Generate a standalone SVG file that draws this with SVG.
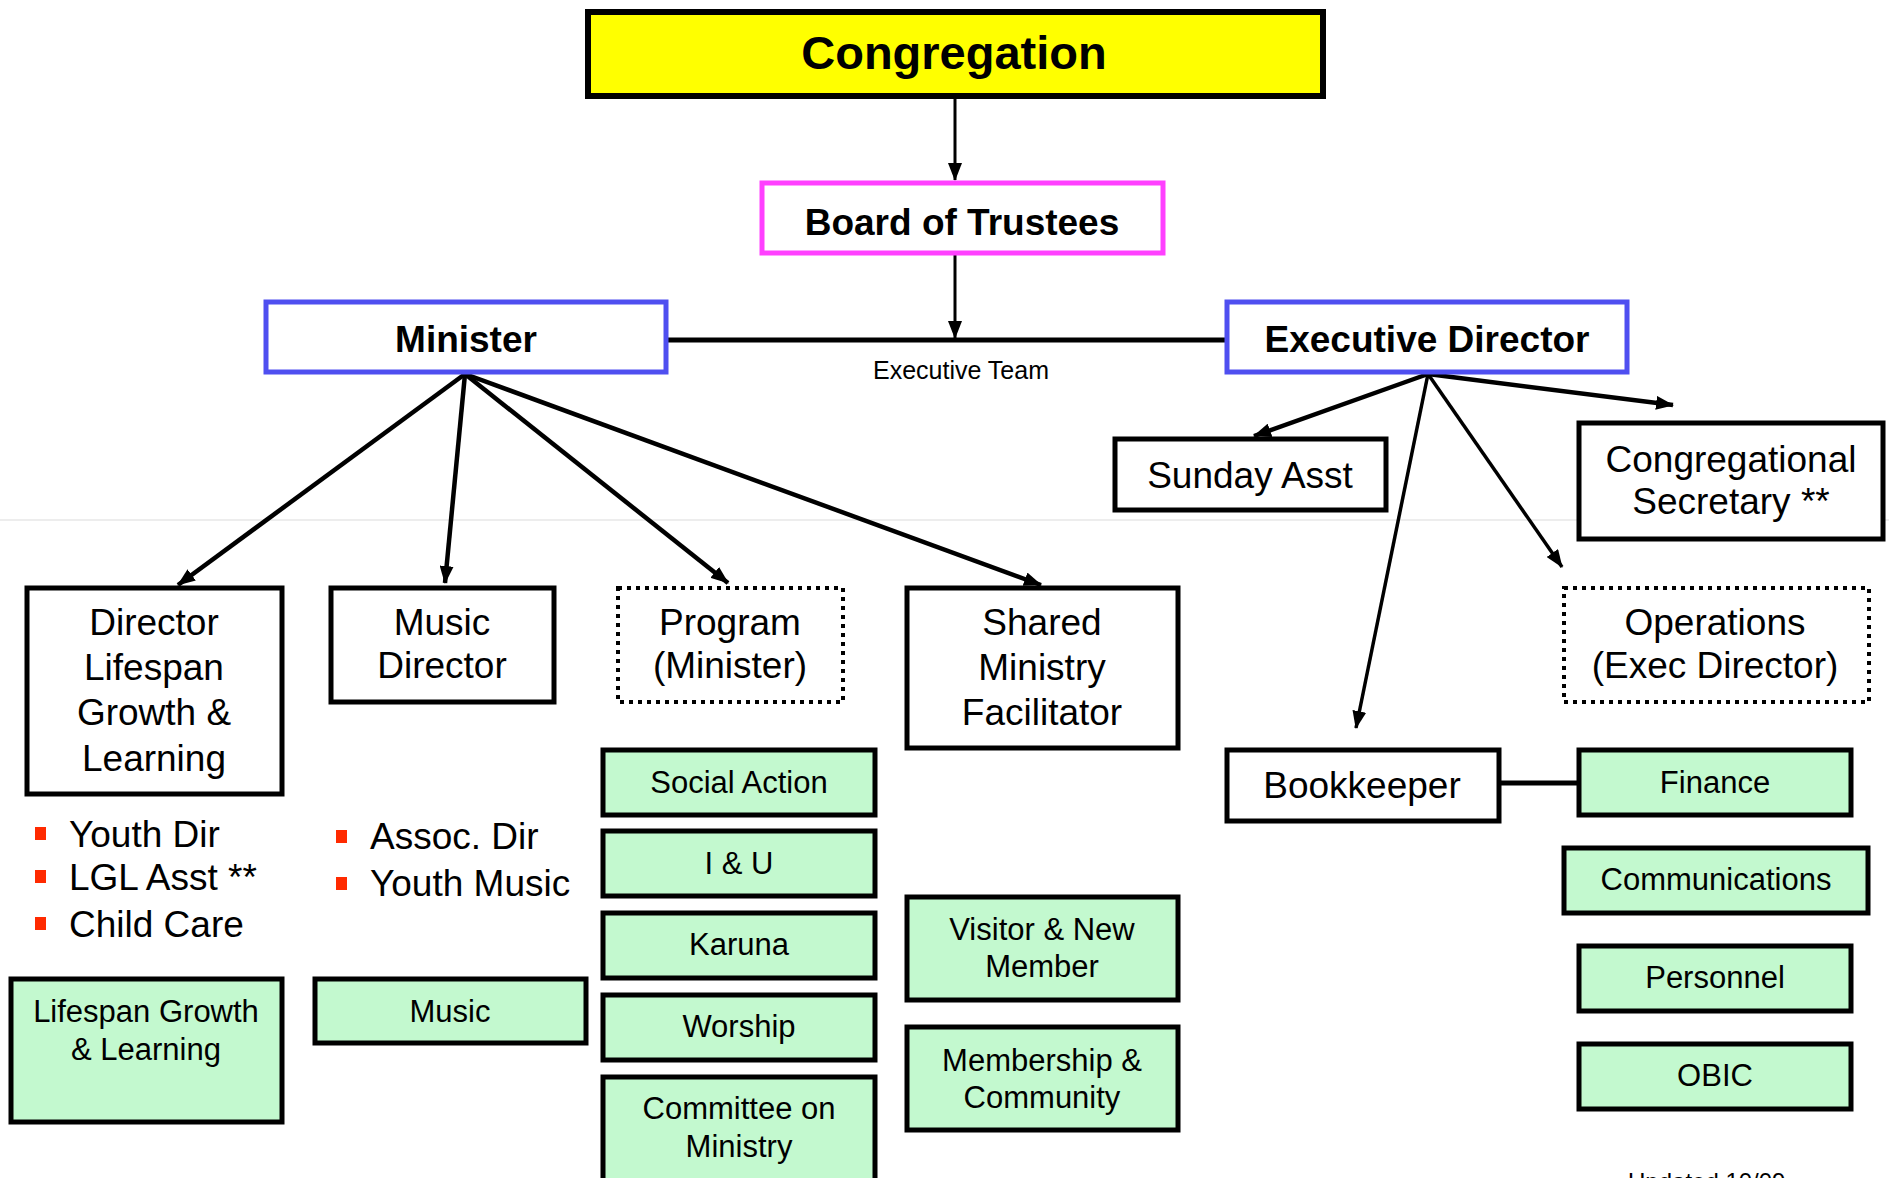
<svg xmlns="http://www.w3.org/2000/svg" width="1889" height="1178" viewBox="0 0 1889 1178">
<defs>
<style>
text{font-family:"Liberation Sans",Arial,sans-serif;fill:#000;text-anchor:middle}
.b{font-weight:bold}
.t37{font-size:37px}
.t31{font-size:31px}
.box{fill:#fff;stroke:#000;stroke-width:5}
.dot{fill:#fff;stroke:#000;stroke-width:4;stroke-dasharray:4 5}
.grn{fill:#c3f9cf;stroke:#000;stroke-width:5}
.blue{fill:#fff;stroke:#4f4ff0;stroke-width:5}
.conn line{stroke:#000;stroke-width:4.5;fill:none}
.bul{fill:#ff2a00}
.lt{text-anchor:start}
</style>
<marker id="ah" viewBox="0 0 18 14" refX="17" refY="7" markerWidth="18" markerHeight="14" markerUnits="userSpaceOnUse" orient="auto">
<path d="M0,0 L18,7 L0,14 Z" fill="#000"/>
</marker>
</defs>
<rect x="0" y="0" width="1889" height="1178" fill="#fff"/>
<line x1="0" y1="520" x2="1889" y2="520" stroke="#ededed" stroke-width="2"/>

<g class="conn">
<line x1="955" y1="97" x2="955" y2="180" style="stroke-width:3" marker-end="url(#ah)"/>
<line x1="955" y1="255" x2="955" y2="338" style="stroke-width:3" marker-end="url(#ah)"/>
<line x1="667" y1="340" x2="1226" y2="340" style="stroke-width:5"/>
<line x1="465" y1="374" x2="178" y2="585" marker-end="url(#ah)"/>
<line x1="465" y1="374" x2="445" y2="583" marker-end="url(#ah)"/>
<line x1="465" y1="374" x2="728" y2="583" marker-end="url(#ah)"/>
<line x1="465" y1="374" x2="1041" y2="585" marker-end="url(#ah)"/>
<line x1="1428" y1="374" x2="1254" y2="436" marker-end="url(#ah)"/>
<line x1="1428" y1="374" x2="1673" y2="405" marker-end="url(#ah)"/>
<line x1="1428" y1="374" x2="1356" y2="728" style="stroke-width:3.5" marker-end="url(#ah)"/>
<line x1="1428" y1="374" x2="1562" y2="567" style="stroke-width:3.5" marker-end="url(#ah)"/>
<line x1="1500" y1="783" x2="1578" y2="783" style="stroke-width:5"/>
</g>

<g id="congregation">
<rect x="588" y="12" width="735" height="84" fill="#ffff00" stroke="#000" stroke-width="6"/>
<text class="b" x="954" y="69" font-size="47">Congregation</text>
</g>
<g id="board">
<rect x="762" y="183" width="401" height="70" fill="#fff" stroke="#ff40ff" stroke-width="5"/>
<text class="b t37" x="962" y="235">Board of Trustees</text>
</g>
<g id="minister">
<rect class="blue" x="266" y="302" width="400" height="70"/>
<text class="b t37" x="466" y="352">Minister</text>
</g>
<g id="execdir">
<rect class="blue" x="1227" y="302" width="400" height="70"/>
<text class="b t37" x="1427" y="352">Executive Director</text>
</g>
<g id="execteam">
<text x="961" y="379" font-size="25">Executive Team</text>
</g>

<g id="sundayasst">
<rect class="box" x="1115" y="439" width="271" height="71"/>
<text class="t37" x="1250" y="488">Sunday Asst</text>
</g>
<g id="congsec">
<rect class="box" x="1579" y="423" width="304" height="116"/>
<text class="t37" x="1731" y="472">Congregational</text>
<text class="t37" x="1731" y="514">Secretary **</text>
</g>

<g id="dirlifespan">
<rect class="box" x="27" y="588" width="255" height="206"/>
<text class="t37" x="154" y="635">Director</text>
<text class="t37" x="154" y="680">Lifespan</text>
<text class="t37" x="154" y="725">Growth &amp;</text>
<text class="t37" x="154" y="771">Learning</text>
</g>
<g id="musicdir">
<rect class="box" x="331" y="588" width="223" height="114"/>
<text class="t37" x="442" y="635">Music</text>
<text class="t37" x="442" y="678">Director</text>
</g>
<g id="program">
<rect class="dot" x="618" y="588" width="225" height="114"/>
<text class="t37" x="730" y="635">Program</text>
<text class="t37" x="730" y="678">(Minister)</text>
</g>
<g id="shared">
<rect class="box" x="907" y="588" width="271" height="160"/>
<text class="t37" x="1042" y="635">Shared</text>
<text class="t37" x="1042" y="680">Ministry</text>
<text class="t37" x="1042" y="725">Facilitator</text>
</g>
<g id="operations">
<rect class="dot" x="1564" y="588" width="305" height="114"/>
<text class="t37" x="1715" y="635">Operations</text>
<text class="t37" x="1715" y="678">(Exec Director)</text>
</g>
<g id="bookkeeper">
<rect class="box" x="1227" y="750" width="272" height="71"/>
<text class="t37" x="1362" y="798">Bookkeeper</text>
</g>

<g id="lifespanlist">
<rect class="bul" x="35" y="827" width="11" height="13"/>
<rect class="bul" x="35" y="870" width="11" height="13"/>
<rect class="bul" x="35" y="917" width="11" height="13"/>
<text class="t37 lt" x="69" y="847">Youth Dir</text>
<text class="t37 lt" x="69" y="890">LGL Asst **</text>
<text class="t37 lt" x="69" y="937">Child Care</text>
</g>
<g id="musiclist">
<rect class="bul" x="336" y="830" width="11" height="13"/>
<rect class="bul" x="336" y="877" width="11" height="13"/>
<text class="t37 lt" x="370" y="849">Assoc. Dir</text>
<text class="t37 lt" x="370" y="896">Youth Music</text>
</g>

<g id="socialaction">
<rect class="grn" x="603" y="750" width="272" height="65"/>
<text class="t31" x="739" y="793">Social Action</text>
</g>
<g id="iu">
<rect class="grn" x="603" y="831" width="272" height="65"/>
<text class="t31" x="739" y="874">I &amp; U</text>
</g>
<g id="karuna">
<rect class="grn" x="603" y="913" width="272" height="65"/>
<text class="t31" x="739" y="955">Karuna</text>
</g>
<g id="worship">
<rect class="grn" x="603" y="995" width="272" height="65"/>
<text class="t31" x="739" y="1037">Worship</text>
</g>
<g id="com">
<rect class="grn" x="603" y="1077" width="272" height="105"/>
<text class="t31" x="739" y="1119">Committee on</text>
<text class="t31" x="739" y="1157">Ministry</text>
</g>
<g id="lgl">
<rect class="grn" x="11" y="979" width="271" height="143"/>
<text class="t31" x="146" y="1022">Lifespan Growth</text>
<text class="t31" x="146" y="1060">&amp; Learning</text>
</g>
<g id="music">
<rect class="grn" x="315" y="979" width="271" height="64"/>
<text class="t31" x="450" y="1022">Music</text>
</g>
<g id="visitor">
<rect class="grn" x="907" y="897" width="271" height="103"/>
<text class="t31" x="1042" y="940">Visitor &amp; New</text>
<text class="t31" x="1042" y="977">Member</text>
</g>
<g id="membership">
<rect class="grn" x="907" y="1027" width="271" height="103"/>
<text class="t31" x="1042" y="1071">Membership &amp;</text>
<text class="t31" x="1042" y="1108">Community</text>
</g>
<g id="finance">
<rect class="grn" x="1579" y="750" width="272" height="65"/>
<text class="t31" x="1715" y="793">Finance</text>
</g>
<g id="communications">
<rect class="grn" x="1564" y="848" width="304" height="65"/>
<text class="t31" x="1716" y="890">Communications</text>
</g>
<g id="personnel">
<rect class="grn" x="1579" y="946" width="272" height="65"/>
<text class="t31" x="1715" y="988">Personnel</text>
</g>
<g id="obic">
<rect class="grn" x="1579" y="1044" width="272" height="65"/>
<text class="t31" x="1715" y="1086">OBIC</text>
</g>
<g id="updated">
<text class="lt" x="1628" y="1190" font-size="24">Updated 10/09</text>
</g>
</svg>
